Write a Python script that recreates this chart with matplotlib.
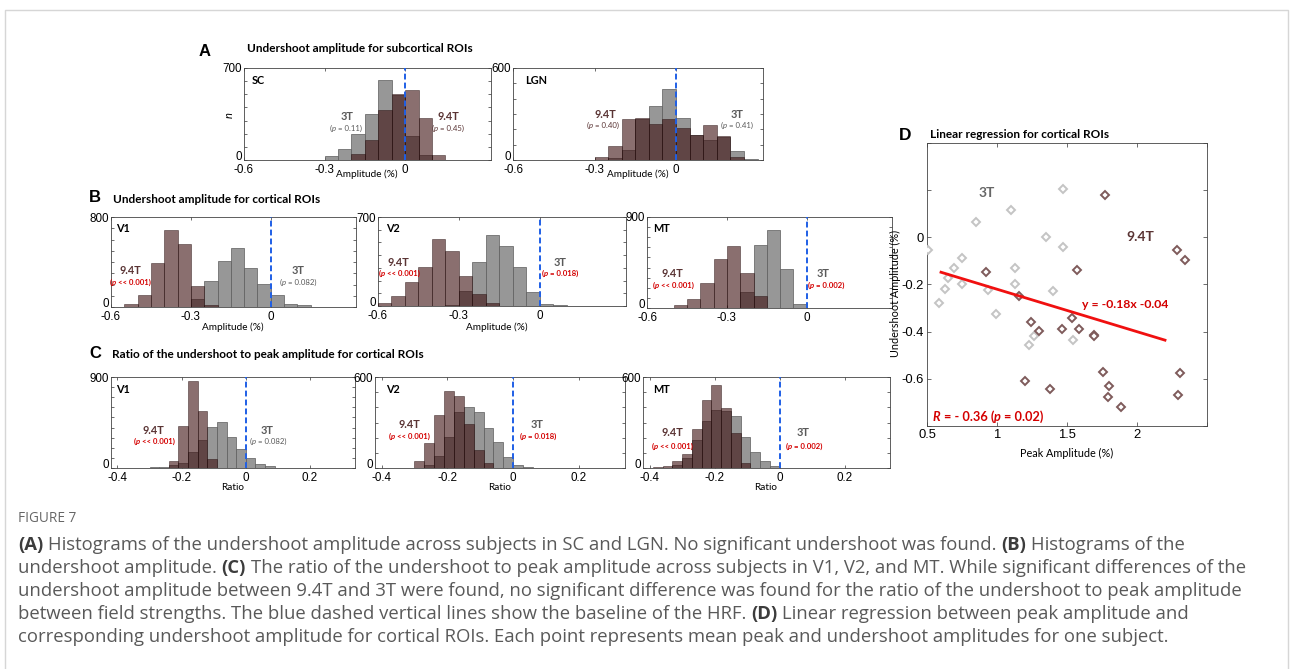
import numpy as np
import matplotlib
matplotlib.use('Agg')
import matplotlib.pyplot as plt

W, H = 1293, 669

# ---------------- data ----------------
# panel A (bin width 0.05), left edges of bins
sc_bins = [-0.30, -0.25, -0.20, -0.15, -0.10, -0.05, 0.00, 0.05, 0.10]
sc_3t = [31, 84, 199, 351, 611, 498, 186, 38, 0]
sc_94t = [0, 0, 46, 150, 379, 505, 529, 321, 38]

lgn_bins = [-0.30, -0.25, -0.20, -0.15, -0.10, -0.05, 0.00, 0.05, 0.10, 0.15, 0.20, 0.25]
lgn_3t = [0, 11, 65, 268, 353, 463, 273, 160, 131, 152, 59, 4]
lgn_94t = [22, 94, 266, 275, 236, 268, 207, 164, 229, 157, 17, 0]

# panel B (bin width 0.05)
bv1_bins = [-0.55, -0.50, -0.45, -0.40, -0.35, -0.30, -0.25, -0.20, -0.15, -0.10, -0.05, 0.00, 0.05, 0.10]
bv1_3t = [0, 0, 0, 0, 0, 74, 231, 406, 524, 347, 207, 104, 30, 15]
bv1_94t = [24, 104, 394, 687, 563, 187, 15, 0, 0, 0, 0, 0, 0, 0]

bv2_bins = [-0.60, -0.55, -0.50, -0.45, -0.40, -0.35, -0.30, -0.25, -0.20, -0.15, -0.10, -0.05, 0.00, 0.05]
bv2_3t = [0, 0, 0, 0, 0, 11, 119, 343, 560, 468, 304, 114, 18, 5]
bv2_94t = [21, 79, 190, 304, 528, 433, 238, 92, 21, 3, 0, 0, 0, 0]

bmt_bins = [-0.50, -0.45, -0.40, -0.35, -0.30, -0.25, -0.20, -0.15, -0.10, -0.05]
bmt_3t = [0, 0, 0, 0, 0, 158, 620, 768, 389, 43]
bmt_94t = [33, 92, 251, 488, 610, 349, 115, 0, 0, 0]

# panel C (bin width 0.03)
cv1_bins = [-0.30, -0.27, -0.24, -0.21, -0.18, -0.15, -0.12, -0.09, -0.06, -0.03, 0.00, 0.03, 0.06]
cv1_3t = [5, 14, 25, 53, 158, 274, 410, 456, 305, 190, 98, 35, 20]
cv1_94t = [0, 0, 70, 412, 858, 564, 86, 0, 0, 0, 0, 0, 0]

cv2_bins = [-0.30, -0.27, -0.24, -0.21, -0.18, -0.15, -0.12, -0.09, -0.06, -0.03, 0.00, 0.03]
cv2_3t = [0, 22, 77, 204, 369, 402, 369, 264, 171, 73, 22, 5]
cv2_94t = [44, 167, 352, 505, 473, 292, 116, 35, 0, 0, 0, 0]

cmt_bins = [-0.39, -0.36, -0.33, -0.30, -0.27, -0.24, -0.21, -0.18, -0.15, -0.12, -0.09, -0.06, -0.03]
cmt_3t = [0, 0, 20, 66, 182, 308, 380, 376, 343, 204, 105, 46, 13]
cmt_94t = [7, 11, 44, 95, 255, 446, 545, 396, 230, 35, 0, 0, 0]

# panel D, one point per subject
d3_peak = [0.505, 0.585, 0.628, 0.652, 0.696, 0.749, 0.749, 0.850, 0.935, 0.995,
           1.097, 1.128, 1.128, 1.232, 1.266, 1.348, 1.401, 1.469, 1.469, 1.546]
d3_under = [-0.054, -0.278, -0.217, -0.172, -0.132, -0.089, -0.199, 0.067, -0.224, -0.323,
            0.116, -0.132, -0.200, -0.458, -0.418, 0.003, -0.227, 0.204, -0.043, -0.437]
d94_peak = [0.923, 1.155, 1.200, 1.246, 1.300, 1.382, 1.461, 1.534, 1.570, 1.587, 1.691,
            1.696, 1.758, 1.768, 1.797, 1.792, 1.889, 2.283, 2.343, 2.304, 2.295]
d94_under = [-0.149, -0.250, -0.611, -0.359, -0.399, -0.645, -0.390, -0.340, -0.139, -0.390, -0.413,
             -0.418, -0.569, 0.180, -0.631, -0.678, -0.721, -0.054, -0.096, -0.574, -0.668]
fit_slope, fit_icpt = -0.18, -0.04
fit_range = [0.6, 2.2]

caption_lines = [
    [("(A)", True), (" Histograms of the undershoot amplitude across subjects in SC and LGN. No significant undershoot was found. ", False),
     ("(B)", True), (" Histograms of the", False)],
    [("undershoot amplitude. ", False), ("(C)", True),
     (" The ratio of the undershoot to peak amplitude across subjects in V1, V2, and MT. While significant differences of the", False)],
    [("undershoot amplitude between 9.4T and 3T were found, no significant difference was found for the ratio of the undershoot to peak amplitude", False)],
    [("between field strengths. The blue dashed vertical lines show the baseline of the HRF. ", False), ("(D)", True),
     (" Linear regression between peak amplitude and", False)],
    [("corresponding undershoot amplitude for cortical ROIs. Each point represents mean peak and undershoot amplitudes for one subject.", False)],
]

# ---------------- style ----------------
GREY = '#979797'
BROWN = '#3c0f0f'
BLUE = '#1f5fe6'
RED = '#d40000'
T3_TXT = '#5a5a5a'
T94_TXT = '#5a3434'
TICKFONT = ['Liberation Sans Narrow', 'Liberation Sans', 'DejaVu Sans']
TITLE_SIZE = 8.5

plt.rcParams['font.family'] = ['Lato', 'DejaVu Sans']

fig = plt.figure(figsize=(W / 100, H / 100), dpi=100)
renderer = fig.canvas.get_renderer()


def add_ax(l, t, r, b):
    return fig.add_axes([l / W, 1 - b / H, (r - l) / W, (b - t) / H])


def ftext(x, y, s, **kw):
    kw.setdefault('va', 'center')
    return fig.text(x / W, 1 - y / H, s, **kw)


def width_of(s, **kw):
    t = fig.text(0, 0, s, **kw)
    w = t.get_window_extent(renderer).width
    t.remove()
    return w


def rich(x, y, parts, ha='left', **kw):
    # parts: (string, extra kwargs); y is baseline in pixels
    pieces = []
    for s, extra in parts:
        k = dict(kw)
        k.update(extra)
        sp = width_of('a a', **k) - width_of('aa', **k)
        core = s.strip(' ')
        lead = len(s) - len(s.lstrip(' '))
        trail = len(s) - len(s.rstrip(' '))
        w = width_of(core, **k) if core else 0
        pieces.append((core, k, lead * sp, w, trail * sp))
    total = sum(a + b + c for _, _, a, b, c in pieces)
    x0 = x - total / 2 if ha == 'center' else x
    for core, k, a, w, c in pieces:
        x0 += a
        if core:
            fig.text(x0 / W, 1 - y / H, core, va='baseline', ha='left', **k)
        x0 += w + c


def ptext(x, y, pval, color, bold=False, size=5.6):
    wt = 'bold' if bold else 'normal'
    rich(x, y + 2, [("(", {}), ("p", {'style': 'italic'}), (" " + pval + ")", {})],
         ha='center', fontsize=size, color=color, weight=wt)


def hist_panel(rect, bins, c3, c94, bw, ymax, xlim, xticks, xlabels):
    ax = add_ax(*rect)
    ax.bar(bins, c3, width=bw, align='edge', color=GREY, edgecolor='#5c5c5c', linewidth=0.5, zorder=2)
    ax.bar(bins, c94, width=bw, align='edge', color=BROWN, alpha=0.6, edgecolor='#200808', linewidth=0.5, zorder=3)
    ax.axvline(0, color=BLUE, lw=1.4, ls=(0, (3, 1.6)), zorder=4)
    ax.set_xlim(*xlim)
    ax.set_ylim(0, ymax)
    ax.set_xticks(xticks)
    ax.set_xticklabels(xlabels)
    yt = list(range(0, ymax + 1, 100))
    ax.set_yticks(yt)
    ax.set_yticklabels([str(v) if v in (0, ymax) else '' for v in yt])
    ax.tick_params(direction='in', length=2.5, width=0.5, top=True, right=True, labelsize=8.4, pad=1.5,
                   colors='#333333', labelcolor='black')
    ax.tick_params(axis='x', pad=3)
    for lab in ax.get_xticklabels() + ax.get_yticklabels():
        lab.set_family(TICKFONT)
    # the zero count label sits on its baseline, above the x labels
    ax.get_yticklabels()[0].set_va('baseline')
    for sp in ax.spines.values():
        sp.set_linewidth(0.6)
        sp.set_color('#444444')
    return ax


amp_x = (-0.6, 0.32)
amp_t = [-0.6, -0.3, 0]
amp_l = ['-0.6', '-0.3', '0']
rat_x = (-0.42, 0.34)
rat_t = [-0.4, -0.2, 0, 0.2]
rat_l = ['-0.4', '-0.2', '0', '0.2']

# ---------- panel A ----------
hist_panel((244, 68, 491, 160), sc_bins, sc_3t, sc_94t, 0.05, 700, amp_x, amp_t, amp_l)
hist_panel((513, 68, 763, 160), lgn_bins, lgn_3t, lgn_94t, 0.05, 600, amp_x, amp_t, amp_l)
ftext(205, 52, 'A', fontsize=12, weight='bold', ha='center', family=['Liberation Sans', 'DejaVu Sans'])
ftext(247, 49, 'Undershoot amplitude for subcortical ROIs', fontsize=TITLE_SIZE, weight='bold', ha='left')
ftext(252, 80, 'SC', fontsize=7.8, weight='bold')
ftext(525, 80, 'LGN', fontsize=7.8, weight='bold')
ftext(229, 115, 'n', fontsize=8, style='italic', rotation=90, ha='center')
ftext(347, 117, '3T', fontsize=7.8, weight='bold', color=T3_TXT, ha='center')
ptext(346, 129, '= 0.11', T3_TXT)
ftext(448, 117, '9.4T', fontsize=7.8, weight='bold', color=T94_TXT, ha='center')
ptext(448, 129, '= 0.45', T94_TXT)
ftext(605, 115, '9.4T', fontsize=7.8, weight='bold', color=T94_TXT, ha='center')
ptext(603, 126, '= 0.40', T94_TXT)
ftext(737, 115, '3T', fontsize=7.8, weight='bold', color=T3_TXT, ha='center')
ptext(737, 126, '= 0.41', T3_TXT)
ftext(367, 174, 'Amplitude (%)', fontsize=7.2, ha='center')
ftext(638, 174, 'Amplitude (%)', fontsize=7.2, ha='center')

# ---------- panel B ----------
hist_panel((111, 217, 356, 307), bv1_bins, bv1_3t, bv1_94t, 0.05, 800, amp_x, amp_t, amp_l)
hist_panel((378, 217, 626, 306), bv2_bins, bv2_3t, bv2_94t, 0.05, 700, amp_x, amp_t, amp_l)
hist_panel((647, 217, 892, 308), bmt_bins, bmt_3t, bmt_94t, 0.05, 900, amp_x, amp_t, amp_l)
ftext(95, 198, 'B', fontsize=12, weight='bold', ha='center', family=['Liberation Sans', 'DejaVu Sans'])
ftext(113, 199, 'Undershoot amplitude for cortical ROIs', fontsize=TITLE_SIZE, weight='bold', ha='left')
ftext(116, 228, 'V1', fontsize=7.8, weight='bold')
ftext(386, 228, 'V2', fontsize=7.8, weight='bold')
ftext(653, 228, 'MT', fontsize=7.8, weight='bold')
ftext(130, 270, '9.4T', fontsize=7.8, weight='bold', color=T94_TXT, ha='center')
ptext(130, 283, '<< 0.001', RED, bold=True)
ftext(298, 270, '3T', fontsize=7.8, weight='bold', color=T3_TXT, ha='center')
ptext(298, 283, '= 0.082', T3_TXT)
ftext(398, 262, '9.4T', fontsize=7.8, weight='bold', color=T94_TXT, ha='center')
ptext(399, 274, '<< 0.001', RED, bold=True)
ftext(560, 262, '3T', fontsize=7.8, weight='bold', color=T3_TXT, ha='center')
ptext(560, 274, '= 0.018', RED, bold=True)
ftext(672, 274, '9.4T', fontsize=7.8, weight='bold', color=T94_TXT, ha='center')
ptext(673, 286, '<< 0.001', RED, bold=True)
ftext(823, 274, '3T', fontsize=7.8, weight='bold', color=T3_TXT, ha='center')
ptext(826, 286, '= 0.002', RED, bold=True)
ftext(233, 327, 'Amplitude (%)', fontsize=7.2, ha='center')
ftext(497, 327, 'Amplitude (%)', fontsize=7.2, ha='center')

# ---------- panel C ----------
hist_panel((111, 377, 355, 468), cv1_bins, cv1_3t, cv1_94t, 0.03, 900, rat_x, rat_t, rat_l)
hist_panel((375, 377, 625, 468), cv2_bins, cv2_3t, cv2_94t, 0.03, 600, rat_x, rat_t, rat_l)
hist_panel((643, 377, 890, 468), cmt_bins, cmt_3t, cmt_94t, 0.03, 600, rat_x, rat_t, rat_l)
ftext(95, 354, 'C', fontsize=12, weight='bold', ha='center', family=['Liberation Sans', 'DejaVu Sans'])
ftext(112, 354, 'Ratio of the undershoot to peak amplitude for cortical ROIs', fontsize=TITLE_SIZE, weight='bold', ha='left')
ftext(116, 389, 'V1', fontsize=7.8, weight='bold')
ftext(386, 389, 'V2', fontsize=7.8, weight='bold')
ftext(653, 389, 'MT', fontsize=7.8, weight='bold')
ftext(153, 430, '9.4T', fontsize=7.8, weight='bold', color=T94_TXT, ha='center')
ptext(154, 442, '<< 0.001', RED, bold=True)
ftext(267, 430, '3T', fontsize=7.8, weight='bold', color=T3_TXT, ha='center')
ptext(268, 442, '= 0.082', T3_TXT)
ftext(409, 424, '9.4T', fontsize=7.8, weight='bold', color=T94_TXT, ha='center')
ptext(409, 437, '<< 0.001', RED, bold=True)
ftext(537, 424, '3T', fontsize=7.8, weight='bold', color=T3_TXT, ha='center')
ptext(538, 437, '= 0.018', RED, bold=True)
ftext(672, 432, '9.4T', fontsize=7.8, weight='bold', color=T94_TXT, ha='center')
ptext(672, 447, '<< 0.001', RED, bold=True)
ftext(803, 432, '3T', fontsize=7.8, weight='bold', color=T3_TXT, ha='center')
ptext(804, 447, '= 0.002', RED, bold=True)
for cx in (233, 500, 766):
    ftext(cx, 488, 'Ratio', fontsize=7.2, ha='center')

# ---------- panel D ----------
axd = add_ax(927, 143, 1207, 426)
axd.plot(d3_peak, d3_under, 'D', ms=3.6, mfc='white', mec='#c4c4c4', mew=1.4, zorder=3)
axd.plot(d94_peak, d94_under, 'D', ms=3.6, mfc='white', mec='#7e5b5b', mew=1.4, zorder=3)
fx = np.array(fit_range)
axd.plot(fx, fit_slope * fx + fit_icpt, color='#f01010', lw=2.0, zorder=4)
axd.set_xlim(0.5, 2.5)
axd.set_ylim(-0.8, 0.4)
axd.set_xticks([0.5, 1, 1.5, 2, 2.5])
axd.set_xticklabels(['0.5', '1', '1.5', '2', ''])
axd.set_yticks([-0.8, -0.6, -0.4, -0.2, 0, 0.2, 0.4])
axd.set_yticklabels(['', '-0.6', '-0.4', '-0.2', '0', '', ''])
axd.tick_params(direction='in', length=3, width=0.5, top=True, right=True, labelsize=9.4, pad=2,
                colors='#333333', labelcolor='black')
for lab in axd.get_xticklabels() + axd.get_yticklabels():
    lab.set_family(TICKFONT)
for sp in axd.spines.values():
    sp.set_linewidth(0.6)
    sp.set_color('#444444')
ftext(905, 135, 'D', fontsize=12.5, weight='bold', ha='center', family=['Liberation Sans', 'DejaVu Sans'])
ftext(930, 134, 'Linear regression for cortical ROIs', fontsize=TITLE_SIZE, weight='bold', ha='left')
ftext(987, 193, '3T', fontsize=10, weight='bold', color='#666666', ha='center')
ftext(1140, 237, '9.4T', fontsize=10, weight='bold', color=T94_TXT, ha='center')
ftext(1125, 304, 'y = -0.18x -0.04', fontsize=8.8, weight='bold', color=RED, ha='center')
rich(933, 421, [("R", {'style': 'italic'}), (" = - 0.36 (", {}), ("p", {'style': 'italic'}), (" = 0.02)", {})],
     fontsize=9.2, weight='bold', color=RED)
ftext(895, 293, 'Undershoot Amplitude (%)', fontsize=7.8, rotation=90, ha='center')
ftext(1067, 453, 'Peak Amplitude (%)', fontsize=7.8, ha='center')

# ---------- frame and caption ----------
fig.add_artist(plt.Line2D([5 / W, 5 / W, 1288 / W, 1288 / W], [0, 1 - 10 / H, 1 - 10 / H, 0],
                          color='#d6d6d6', lw=1.0))
ftext(18, 518, 'FIGURE 7', fontsize=9.8, color='#666666', family=['Open Sans', 'DejaVu Sans'])
for i, line in enumerate(caption_lines):
    parts = [(s, {'weight': 'bold', 'color': '#3c3c3c'} if b else {}) for s, b in line]
    rich(18, 550 + 23 * i, parts, fontsize=13.3, color='#595959', family=['Open Sans', 'DejaVu Sans'])

fig.savefig('out.png', dpi=100, facecolor='white')
